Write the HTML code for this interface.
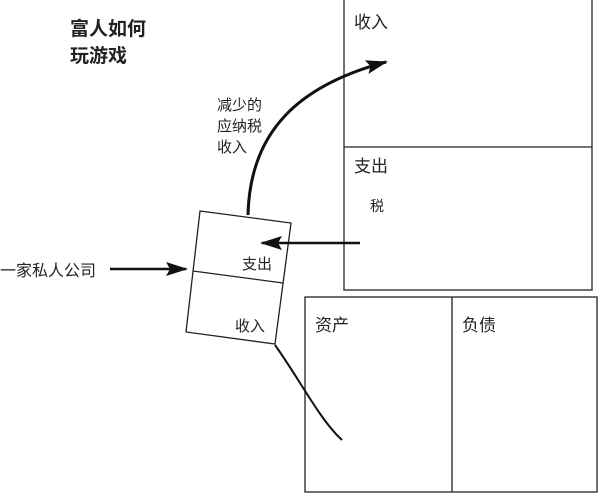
<!DOCTYPE html>
<html><head><meta charset="utf-8"><style>
body{margin:0;background:#fff;}
svg{display:block;font-family:"Liberation Sans","Noto Sans CJK SC",sans-serif;}
</style></head><body>
<svg width="600" height="493" viewBox="0 0 600 493" xmlns="http://www.w3.org/2000/svg">
<defs><marker id="a" markerWidth="22" markerHeight="14" refX="20" refY="7" orient="auto" markerUnits="userSpaceOnUse" viewBox="0 0 22 14"><path d="M0,0 L22,7 L0,14 L4,7 z" fill="#111"/></marker></defs>
<g fill="none" stroke="#222" stroke-width="1.3">
<rect x="344" y="-1" width="248" height="291"/>
<line x1="344" y1="147" x2="592" y2="147"/>
<rect x="305" y="297" width="292" height="195"/>
<line x1="452" y1="297" x2="452" y2="492"/>
<polygon points="200,211 291,223 275,344 186,332"/>
<line x1="193" y1="271" x2="283" y2="283"/>
</g>
<g stroke="#111" stroke-width="3" fill="none">
<path d="M248,215 C250,130 300,85 386,62" marker-end="url(#a)"/>
<path d="M275,345 C300,380 320,420 342,440" stroke-width="2"/>
<line x1="360" y1="243" x2="262" y2="243" marker-end="url(#a)" stroke-width="2.5"/>
<line x1="110" y1="269" x2="186" y2="269" marker-end="url(#a)" stroke-width="2.5"/>
</g>
<g font-size="16" fill="#222">
<text x="70" y="35" font-weight="bold" font-size="19">富人如何</text>
<text x="70" y="62" font-weight="bold" font-size="19">玩游戏</text>
<text x="217" y="110" font-size="15">减少的</text>
<text x="217" y="131" font-size="15">应纳税</text>
<text x="217" y="152" font-size="15">收入</text>
<text x="354" y="28" font-size="17">收入</text>
<text x="354" y="172" font-size="17">支出</text>
<text x="370" y="211" font-size="14">税</text>
<text x="242" y="269" font-size="15">支出</text>
<text x="235" y="331" font-size="15">收入</text>
<text x="0" y="276" font-size="16">一家私人公司</text>
<text x="315" y="331" font-size="17">资产</text>
<text x="462" y="331" font-size="17">负债</text>
</g>
</svg>
</body></html>
